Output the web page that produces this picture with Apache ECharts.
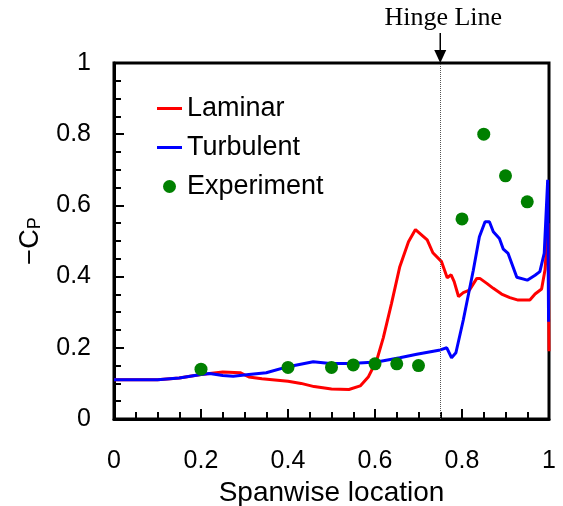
<!DOCTYPE html>
<html>
<head>
<meta charset="utf-8">
<script src="https://cdn.jsdelivr.net/npm/echarts@6/dist/echarts.min.js"></script>
<style>
  html, body { margin: 0; padding: 0; background: #fff; }
  #chart { width: 563px; height: 506px; }
</style>
</head>
<body>
<div id="chart"></div>
<script>
// Spanwise pressure distribution, -Cp vs spanwise location
const laminarX = [0, 0.05, 0.10, 0.15, 0.20, 0.25, 0.29, 0.31, 0.34, 0.40, 0.43, 0.46, 0.50, 0.54, 0.566, 0.585, 0.604, 0.619, 0.638, 0.657, 0.677, 0.693, 0.72, 0.733, 0.753, 0.766, 0.775, 0.782, 0.792, 0.803, 0.817, 0.834, 0.841, 0.857, 0.872, 0.891, 0.91, 0.929, 0.956, 0.968, 0.983, 0.991, 0.996, 0.998, 1.0];
const laminarY = [0.11, 0.11, 0.11, 0.115, 0.125, 0.132, 0.13, 0.118, 0.113, 0.106, 0.10, 0.091, 0.084, 0.083, 0.093, 0.119, 0.165, 0.228, 0.325, 0.428, 0.498, 0.532, 0.503, 0.467, 0.442, 0.397, 0.405, 0.386, 0.344, 0.355, 0.362, 0.395, 0.395, 0.381, 0.367, 0.351, 0.341, 0.334, 0.334, 0.351, 0.365, 0.42, 0.52, 0.55, 0.19];

const turbulentX = [0, 0.05, 0.10, 0.15, 0.20, 0.22, 0.25, 0.274, 0.31, 0.35, 0.40, 0.458, 0.497, 0.543, 0.604, 0.657, 0.696, 0.75, 0.765, 0.776, 0.786, 0.803, 0.826, 0.84, 0.853, 0.863, 0.872, 0.886, 0.895, 0.906, 0.926, 0.95, 0.968, 0.979, 0.989, 0.997, 0.999];
const turbulentY = [0.11, 0.11, 0.11, 0.115, 0.125, 0.128, 0.122, 0.12, 0.125, 0.13, 0.147, 0.161, 0.156, 0.156, 0.16, 0.172, 0.182, 0.194, 0.20, 0.172, 0.186, 0.278, 0.418, 0.512, 0.554, 0.554, 0.526, 0.507, 0.477, 0.465, 0.398, 0.39, 0.404, 0.414, 0.465, 0.672, 0.273];

const experimentX = [0.2, 0.4, 0.5, 0.55, 0.6, 0.65, 0.7, 0.8, 0.85, 0.9, 0.95];
const experimentY = [0.14, 0.145, 0.145, 0.152, 0.155, 0.155, 0.15, 0.562, 0.80, 0.683, 0.61];

const hingeX = 0.75;
const hingeLabel = 'Hinge Line';

const zip = (xs, ys) => xs.map((x, i) => [x, ys[i]]);

const sansFont = '"Liberation Sans", Arial, sans-serif';
const lineIcon = 'path://M0,0H25V3H0Z';

const chart = echarts.init(document.getElementById('chart'), null, { renderer: 'canvas' });

const axisCommon = {
  type: 'value',
  min: 0,
  max: 1,
  interval: 0.2,
  splitLine: { show: false },
  axisLine: { show: true, lineStyle: { color: '#000', width: 3 } },
  axisTick: { show: true, inside: true, length: 10, lineStyle: { color: '#000', width: 2 } },
  minorTick: { show: true, splitNumber: 4, length: 7, lineStyle: { color: '#000', width: 2 } },
  axisLabel: { color: '#000', fontSize: 25, fontFamily: sansFont }
};

chart.setOption({
  animation: false,
  backgroundColor: '#fff',
  grid: {
    left: 114, right: 14, top: 63, bottom: 87,
    outerBoundsMode: 'none',
    containLabel: false,
    show: true, borderColor: '#000', borderWidth: 3, backgroundColor: 'transparent'
  },
  legend: {
    orient: 'vertical',
    left: 152,
    top: 90,
    itemWidth: 25,
    itemHeight: 13,
    itemGap: 12,
    textStyle: { color: '#000', fontSize: 27, lineHeight: 27, fontFamily: sansFont },
    data: [
      { name: 'Laminar', icon: lineIcon },
      { name: 'Turbulent', icon: lineIcon },
      { name: 'Experiment', icon: 'circle' }
    ]
  },
  xAxis: Object.assign({}, axisCommon, {
    name: 'Spanwise location',
    nameLocation: 'middle',
    nameGap: 60,
    nameTextStyle: { color: '#000', fontSize: 28, fontFamily: sansFont },
    axisLabel: Object.assign({}, axisCommon.axisLabel, { margin: 30 })
  }),
  yAxis: Object.assign({}, axisCommon, {
    name: '{a|\u2212C}{b|P}',
    nameLocation: 'middle',
    nameRotate: 90,
    nameGap: 70,
    nameTextStyle: {
      color: '#000',
      fontFamily: sansFont,
      rich: {
        a: { fontSize: 27, fontFamily: sansFont, color: '#000' },
        b: { fontSize: 18, fontFamily: sansFont, color: '#000', verticalAlign: 'bottom', padding: [8, 0, 0, 0] }
      }
    },
    axisLabel: Object.assign({}, axisCommon.axisLabel, { margin: 23 })
  }),
  series: [
    {
      name: 'Laminar',
      type: 'line',
      data: zip(laminarX, laminarY),
      symbol: 'none',
      showSymbol: false,
      lineStyle: { color: '#ff0000', width: 3 },
      itemStyle: { color: '#ff0000' },
      z: 2,
      markLine: {
        silent: true,
        symbol: ['none', 'none'],
        label: { show: false },
        lineStyle: { color: '#555', type: 'dotted', width: 1 },
        data: [{ xAxis: hingeX }]
      }
    },
    {
      name: 'Turbulent',
      type: 'line',
      data: zip(turbulentX, turbulentY),
      symbol: 'none',
      showSymbol: false,
      lineStyle: { color: '#0000ff', width: 3 },
      itemStyle: { color: '#0000ff' },
      z: 3
    },
    {
      name: 'Experiment',
      type: 'scatter',
      data: zip(experimentX, experimentY),
      symbol: 'circle',
      symbolSize: 13,
      itemStyle: { color: '#008000', opacity: 1 },
      z: 4
    }
  ]
});

// Hinge annotation: label and arrow pointing down to the top of the plot frame
const [hx, hyTop] = chart.convertToPixel({ gridIndex: 0 }, [hingeX, 1]);
chart.setOption({
  graphic: [
    {
      type: 'text',
      x: hx + 3,
      y: 18,
      style: { text: hingeLabel, align: 'center', verticalAlign: 'middle', fill: '#000', font: '26px "Liberation Serif", "Times New Roman", serif' },
      z: 10
    },
    {
      type: 'line',
      shape: { x1: hx, y1: 33, x2: hx, y2: hyTop - 12 },
      style: { stroke: '#000', lineWidth: 1.5 },
      z: 10
    },
    {
      type: 'polygon',
      shape: { points: [[hx - 6, hyTop - 13], [hx + 6, hyTop - 13], [hx, hyTop]] },
      style: { fill: '#000' },
      z: 10
    }
  ]
});
</script>
</body>
</html>
